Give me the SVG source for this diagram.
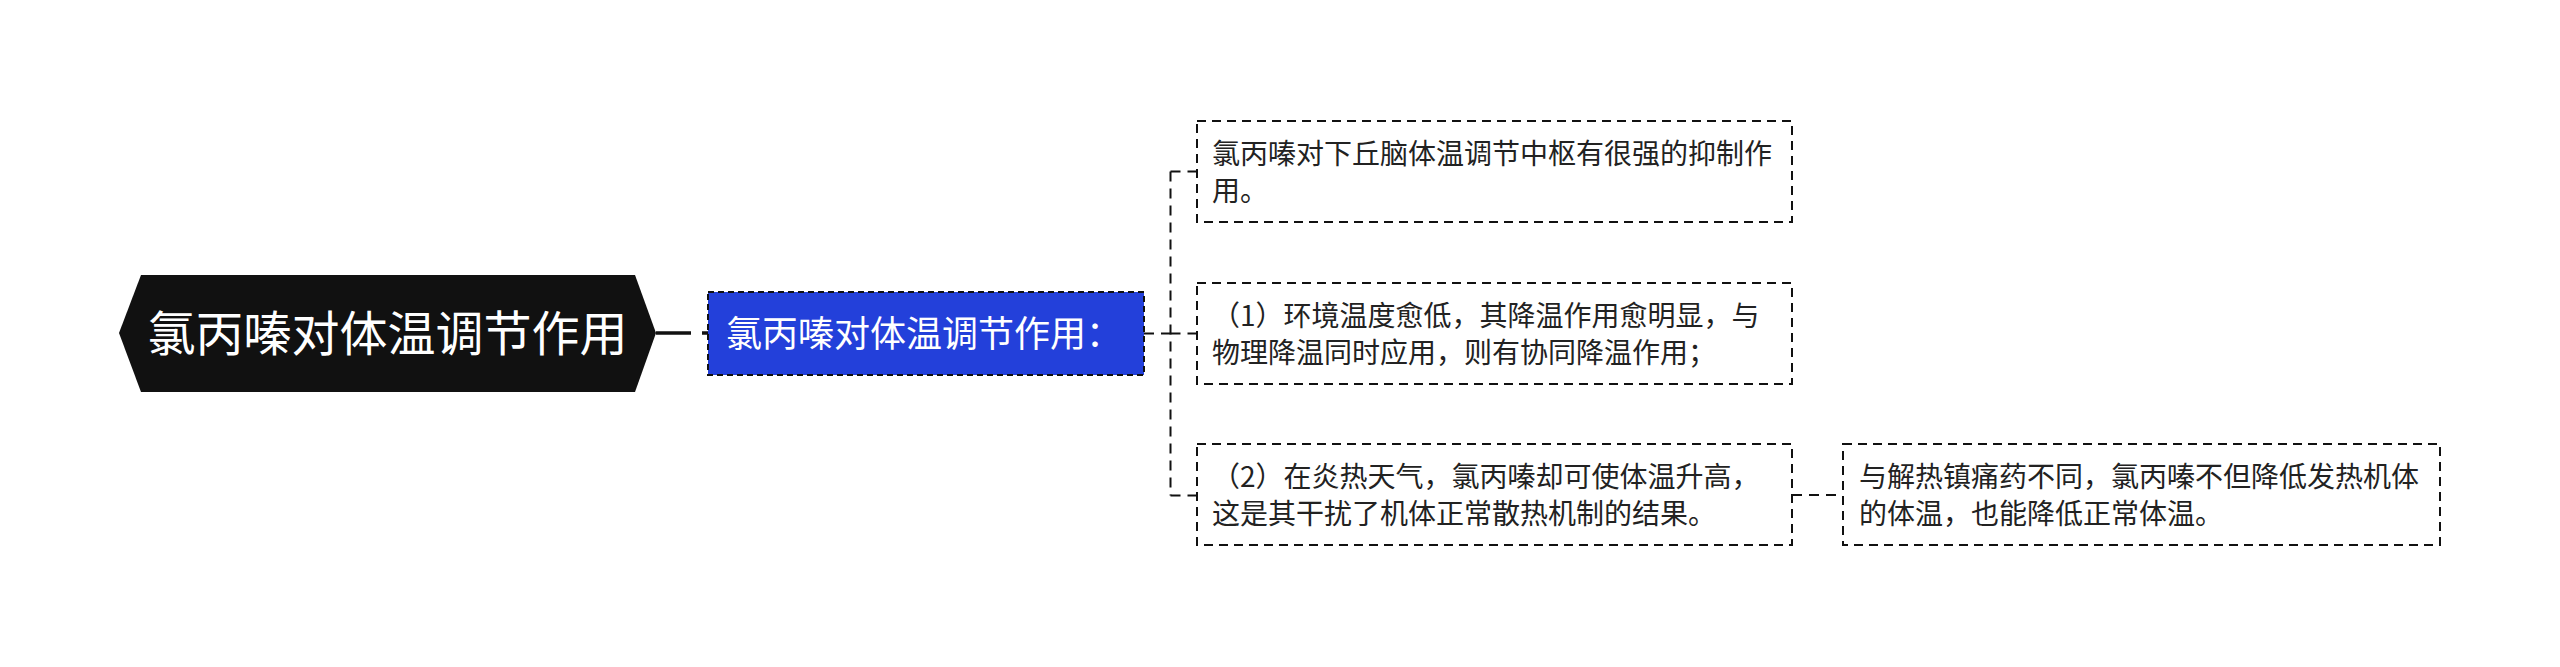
<svg xmlns="http://www.w3.org/2000/svg" width="2560" height="667" viewBox="0 0 2560 667">
<style>
.t{font-family:"Noto Sans CJK SC","Noto Sans",sans-serif;}
.leaf{fill:#ffffff;stroke:#111;stroke-width:2;stroke-dasharray:9 6;}
.lt{font-size:28px;fill:#222;}
.con{fill:none;stroke:#111;stroke-width:2;stroke-dasharray:10 7;}
</style>
<rect width="2560" height="667" fill="#ffffff"/>
<g id="connectors">
<line x1="656" y1="333" x2="708" y2="333" stroke="#111" stroke-width="3.5" stroke-dasharray="35 11"/>
<path class="con" d="M1144 333.5 H1170.5"/>
<path class="con" d="M1170.5 171.5 V495.5"/>
<path class="con" d="M1170.5 171.5 H1197"/>
<path class="con" d="M1170.5 333.5 H1197"/>
<path class="con" d="M1170.5 495.5 H1197"/>
<path class="con" d="M1792 495 H1843"/>
</g>
<g id="root">
<polygon points="119,333 141,275 635,275 656,333 635,392 141,392" fill="#111111"/>
<text class="t" x="387.5" y="351" font-size="48" fill="#ffffff" text-anchor="middle">氯丙嗪对体温调节作用</text>
</g>
<g id="sub">
<rect x="708" y="292" width="436" height="83" fill="#2340da" stroke="#111" stroke-width="2" stroke-dasharray="6 4"/>
<text class="t" x="726" y="347" font-size="36" fill="#ffffff">氯丙嗪对体温调节作用：</text>
</g>
<g id="leaf1">
<rect class="leaf" x="1197" y="121" width="595" height="101"/>
<text class="t lt" x="1212" y="164">氯丙嗪对下丘脑体温调节中枢有很强的抑制作</text>
<text class="t lt" x="1212" y="201">用。</text>
</g>
<g id="leaf2">
<rect class="leaf" x="1197" y="283" width="595" height="101"/>
<text class="t lt" x="1212" y="326">（1）环境温度愈低，其降温作用愈明显，与</text>
<text class="t lt" x="1212" y="363">物理降温同时应用，则有协同降温作用；</text>
</g>
<g id="leaf3">
<rect class="leaf" x="1197" y="444" width="595" height="101"/>
<text class="t lt" x="1212" y="487">（2）在炎热天气，氯丙嗪却可使体温升高，</text>
<text class="t lt" x="1212" y="524">这是其干扰了机体正常散热机制的结果。</text>
</g>
<g id="leaf4">
<rect class="leaf" x="1843" y="444" width="597" height="101"/>
<text class="t lt" x="1859" y="487">与解热镇痛药不同，氯丙嗪不但降低发热机体</text>
<text class="t lt" x="1859" y="524">的体温，也能降低正常体温。</text>
</g>
</svg>
